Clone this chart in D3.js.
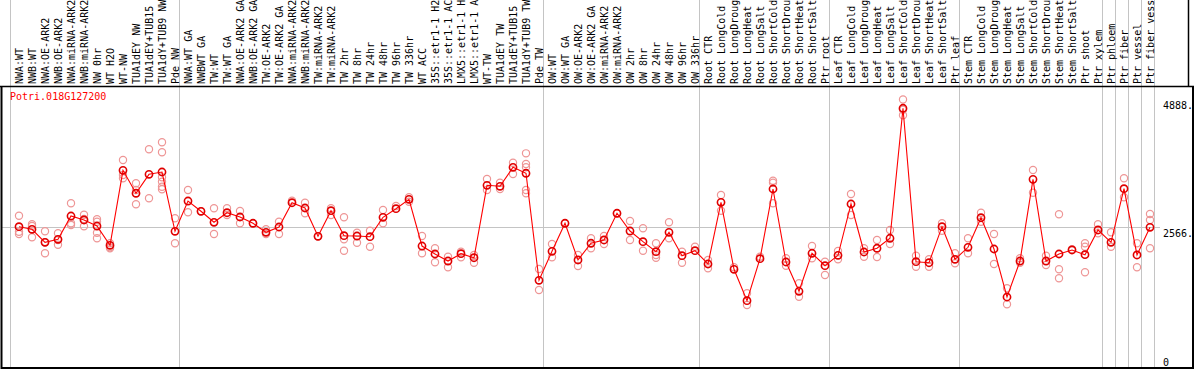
<!DOCTYPE html>
<html>
<head>
<meta charset="utf-8">
<script src="https://cdn.jsdelivr.net/npm/d3@7"></script>
<style>
  body { margin: 0; background: #fff; }
  svg { display: block; }
  text { font-family: "DejaVu Sans Mono", monospace; font-size: 10px; }
</style>
</head>
<body>
<svg id="chart" width="1194" height="370"></svg>
<script>
var geneName = "Potri.018G127200";

var sampleLabels = [
    "NWA:WT", "NWB:WT", "NWA:OE-ARK2", "NWB:OE-ARK2", "NWA:miRNA-ARK2", "NWB:miRNA-ARK2", "NW 0hr", "WT H2O", "WT-NW",
    "TUA1dEY NW", "TUA1dEY+TUB15 NW", "TUA1dY+TUB9 NW", "Pde NW",
    "NWA:WT GA", "NWBWT GA", "TW:WT", "TW:WT GA", "NWA:OE-ARK2 GA", "NWB:OE-ARK2 GA", "TW:OE-ARK2", "TW:OE-ARK2 GA",
    "NWA:miRNA-ARK2 GA", "NWB:miRNA-ARK2 GA", "TW:miRNA-ARK2", "TW:miRNA-ARK2", "TW 2hr", "TW 8hr", "TW 24hr", "TW 48hr",
    "TW 96hr", "TW 336hr", "WT ACC", "35S::etr1-1 H2O", "35S::etr1-1 ACC", "LMX5::etr1-1 H2O", "LMX5::etr1-1 ACC",
    "WT-TW", "TUA1dEY TW", "TUA1dEY+TUB15 TW", "TUA1dY+TUB9 TW", "Pde TW",
    "OW:WT", "OW:WT GA", "OW:OE-ARK2", "OW:OE-ARK2 GA", "OW:miRNA-ARK2", "OW:miRNA-ARK2", "OW 2hr", "OW 8hr",
    "OW 24hr", "OW 48hr", "OW 96hr", "OW 336hr",
    "Root CTR", "Root LongCold", "Root LongDrought", "Root LongHeat", "Root LongSalt", "Root ShortCold",
    "Root ShortDrought", "Root ShortHeat", "Root ShortSalt", "Ptr root",
    "Leaf CTR", "Leaf LongCold", "Leaf LongDrought", "Leaf LongHeat", "Leaf LongSalt", "Leaf ShortCold",
    "Leaf ShortDrought", "Leaf ShortHeat", "Leaf ShortSalt", "Ptr leaf",
    "Stem CTR", "Stem LongCold", "Stem LongDrought", "Stem LongHeat", "Stem LongSalt", "Stem ShortCold",
    "Stem ShortDrought", "Stem ShortHeat", "Stem ShortSalt", "Ptr shoot", "Ptr xylem",
    "Ptr phloem", "Ptr fiber", "Ptr vessel", "Ptr fiber vessel"
];

// number of samples in each separated group
var groupSizes = [13, 28, 12, 10, 10, 11, 1, 1, 1, 1];

var meanValues = [
    2572, 2524, 2288, 2342, 2766, 2694, 2584, 2233, 3598, 3180, 3525, 3567, 2488,
    3039, 2852, 2652, 2826, 2748, 2634, 2470, 2566, 3008, 2912, 2397, 2863, 2408, 2402, 2390,
    2743, 2899, 3070, 2220, 2075, 1947, 2080, 2007, 3325, 3307, 3653, 3544, 1596,
    2124, 2634, 1966, 2270, 2330, 2816, 2493, 2299, 2117, 2470, 2044, 2135,
    1893, 3016, 1796, 1225, 1989, 3258, 1929, 1396, 2088, 1862,
    2051, 2985, 2111, 2179, 2361, 4727, 1935, 1916, 2572, 1978,
    2197, 2735, 2166, 1292, 1947, 3434, 1947, 2075, 2148, 2062, 2512,
    2288, 3263, 2057, 2561
];

var replicateValues = [
    [2772, 2481, 2439], [2615, 2584, 2379], [2488, 2288, 2088], [2452, 2330, 2244], [2998, 2634, 2603],
    [2790, 2712, 2579], [2706, 2663, 2462, 2361], [2270, 2197, 2179], [3786, 3513, 3453], [3362, 3240, 2979],
    [3980, 3089], [4108, 3926, 3471, 3391, 3300, 3252], [2725, 2270],
    [3240, 2834], [2852], [2907, 2439], [2907, 2785], [2857, 2634], [2634], [2524, 2439], [2663, 2439],
    [3045], [3008, 2815], [2397], [2907, 2785], [2743, 2342, 2135], [2462, 2280], [2499, 2208],
    [2876, 2634], [2948], [3107, 3027], [2402, 2088], [2179, 1924], [2026, 1833], [2117, 2015],
    [2057, 1916], [3440, 3240], [3372, 3258], [3736, 3531], [3907, 3713, 3653, 3240, 3180], [1802, 1420],
    [2257, 2015], [2634], [2057, 1856], [2361, 2179], [2402, 2257], [2816], [2675, 2330], [2543, 2135],
    [2270, 2057, 2007], [2652, 2361], [2117, 1916], [2208],
    [1966, 1815], [3149, 2863], [1833], [1360, 1147], [2026], [3409, 3372, 2998], [1997, 1862],
    [1542, 1298], [2220, 1997], [1935, 1693],
    [2129, 1978], [3167, 2785], [2179, 2026], [2330, 2020], [2512, 2257], [4888, 4700, 4600],
    [2044, 1844], [1978, 1844], [2634, 2499], [2088, 1906],
    [2361, 2088], [2826, 2663], [2439, 1893], [1451, 1159], [1997, 1916], [3604, 3190], [2044, 1875],
    [2797, 1796, 1633], [2160], [2270, 2208, 1742], [2615, 2452],
    [2470, 2208], [3453, 3107], [2270, 1833], [2803, 2694, 2179]
];

var yTickValues = [0, 2566, 4888];
var yTickLabels = ["0", "2566.", "4888."];

var svg = d3.select("#chart"),
    width = +svg.attr("width"),
    height = +svg.attr("height");

var labelBottom = 86,
    plotBottom = 368,
    plotRight = 1193;

var n = sampleLabels.length;
var maxVal = d3.max(replicateValues, function (r) { return d3.max(r); });

var x = d3.scaleBand()
    .domain(d3.range(n))
    .range([10.5, 10.5 + 13 * n]);

function px(i) { return x(i) + 8.5; }

var y = d3.scaleLinear()
    .domain([0, maxVal * 1.05])
    .range([plotBottom, labelBottom]);

// group separators (through labels and plot)
var bounds = [0];
groupSizes.forEach(function (s) { bounds.push(bounds[bounds.length - 1] + s); });

svg.append("g")
    .attr("stroke", "#c4c4c4")
    .attr("stroke-width", 1)
    .selectAll("line")
    .data(bounds)
    .enter().append("line")
    .attr("x1", function (d) { return d < n ? x(d) : x(n - 1) + x.step(); })
    .attr("x2", function (d) { return d < n ? x(d) : x(n - 1) + x.step(); })
    .attr("y1", 0)
    .attr("y2", plotBottom);

// mid grid line
svg.append("line")
    .attr("x1", 2).attr("x2", 1160)
    .attr("y1", Math.round(y(yTickValues[1])) + 0.5)
    .attr("y2", Math.round(y(yTickValues[1])) + 0.5)
    .attr("stroke", "#c4c4c4");

// frame
svg.append("line")
    .attr("x1", 0).attr("x2", width)
    .attr("y1", labelBottom + 0.5).attr("y2", labelBottom + 0.5)
    .attr("stroke", "#000").attr("stroke-width", 1.5);
svg.append("path")
    .attr("d", "M1.5," + labelBottom + "V" + plotBottom + "H" + plotRight + "V" + labelBottom)
    .attr("fill", "none")
    .attr("stroke", "#000")
    .attr("stroke-width", 2);
svg.append("line")
    .attr("x1", 1188.5).attr("x2", 1188.5)
    .attr("y1", 0).attr("y2", labelBottom)
    .attr("stroke", "#000").attr("stroke-width", 1.5);

// sample labels
svg.append("g")
    .selectAll("text")
    .data(sampleLabels)
    .enter().append("text")
    .attr("transform", function (d, i) { return "translate(" + (px(i) + 4) + "," + (labelBottom - 2) + ") rotate(-90)"; })
    .attr("fill", "#000")
    .text(function (d) { return d; });

// title
svg.append("text")
    .attr("x", 10)
    .attr("y", 100)
    .attr("fill", "#ff0000")
    .text(geneName);

// y labels
svg.append("g")
    .selectAll("text")
    .data(yTickValues)
    .enter().append("text")
    .attr("x", 1163)
    .attr("y", function (d) { return d === 0 ? y(d) - 2.5 : y(d) + 10; })
    .attr("fill", "#000")
    .text(function (d, i) { return yTickLabels[i]; });

// replicates
var reps = [];
replicateValues.forEach(function (r, i) {
    r.forEach(function (v) { reps.push([i, v]); });
});
svg.append("g")
    .attr("fill", "none")
    .attr("stroke", "rgb(238, 150, 150)")
    .attr("stroke-width", 1.2)
    .selectAll("circle")
    .data(reps)
    .enter().append("circle")
    .attr("cx", function (d) { return px(d[0]); })
    .attr("cy", function (d) { return y(d[1]); })
    .attr("r", 3.6);

// mean line
svg.append("path")
    .datum(meanValues)
    .attr("fill", "none")
    .attr("stroke", "#ff0000")
    .attr("stroke-width", 1.1)
    .attr("d", d3.line()
        .x(function (d, i) { return px(i); })
        .y(function (d) { return y(d); }));

// means
svg.append("g")
    .attr("fill", "none")
    .attr("stroke", "#e00000")
    .attr("stroke-width", 1.6)
    .selectAll("circle")
    .data(meanValues)
    .enter().append("circle")
    .attr("cx", function (d, i) { return px(i); })
    .attr("cy", function (d) { return y(d); })
    .attr("r", 3.6);
</script>
</body>
</html>
